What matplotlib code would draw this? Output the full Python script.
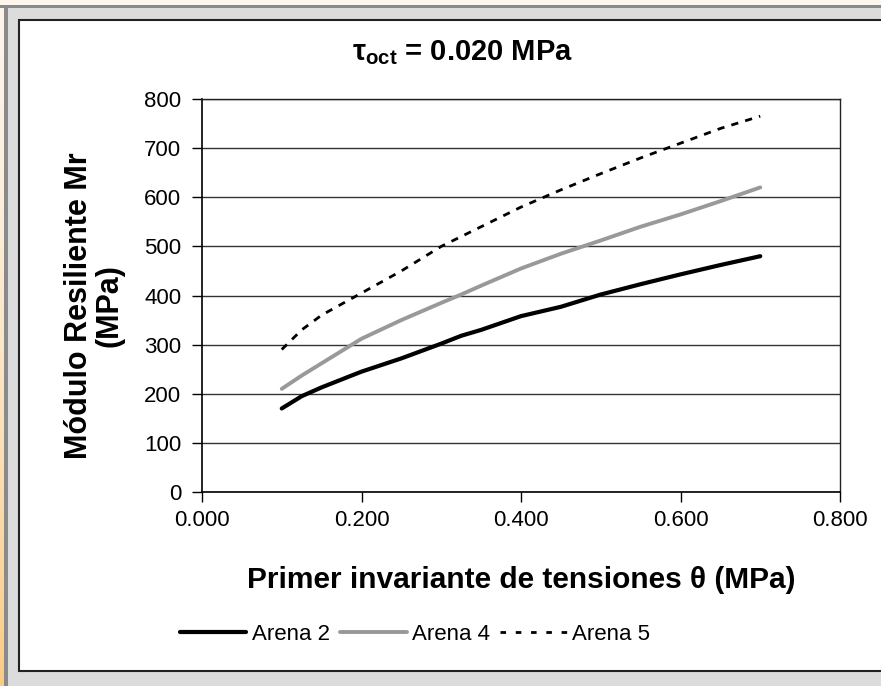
import numpy as np
import matplotlib
matplotlib.use('Agg')
import matplotlib.pyplot as plt
from matplotlib.patches import Rectangle
from matplotlib.lines import Line2D

plt.rcParams['font.family'] = ['Liberation Sans', 'DejaVu Sans']
plt.rcParams['mathtext.fontset'] = 'custom'
plt.rcParams['mathtext.rm'] = 'Liberation Sans'
plt.rcParams['mathtext.bf'] = 'Liberation Sans:bold'

# primer invariante de tensiones (MPa)
theta = [0.100, 0.125, 0.150, 0.200, 0.250, 0.300, 0.325, 0.350, 0.400,
         0.450, 0.500, 0.550, 0.600, 0.650, 0.700]
# modulo resiliente (MPa)
arena2 = [170, 195, 213, 245, 272, 302, 318, 330, 358, 377, 402, 423, 443, 462, 480]
arena4 = [210, 237, 262, 312, 350, 385, 402, 420, 455, 485, 512, 540, 565, 592, 620]
arena5 = [290, 330, 360, 405, 450, 500, 520, 540, 580, 615, 648, 680, 710, 740, 765]

xticks = [0.0, 0.2, 0.4, 0.6, 0.8]
yticks = [0, 100, 200, 300, 400, 500, 600, 700, 800]

W, H = 881, 686
fig = plt.figure(figsize=(W / 100, H / 100), dpi=100, facecolor='#dcdcdc')

# window frame around the chart
fig.patches.append(Rectangle((0, 1 - 5 / H), 1, 5 / H, transform=fig.transFigure,
                             facecolor='#fdf6ec', edgecolor='none', zorder=0))
fig.patches.append(Rectangle((0, 1 - 8 / H), 1, 3 / H, transform=fig.transFigure,
                             facecolor='#8a8a8a', edgecolor='none', zorder=0))
fig.patches.append(Rectangle((4 / W, 0), 4 / W, 1 - 5 / H, transform=fig.transFigure,
                             facecolor='#8a8a8a', edgecolor='none', zorder=0))
fig.patches.append(Rectangle((18.5 / W, 1 - 671 / H), 1, (671 - 20) / H,
                             transform=fig.transFigure, facecolor='white',
                             edgecolor='#222222', linewidth=1.5, zorder=1))

# orange strip on the left edge
strip = fig.add_axes([0, 0, 4 / W, 1 - 5 / H])
grad = np.linspace(0, 1, 256).reshape(-1, 1)
top = np.array([0.99, 0.96, 0.92])
bot = np.array([0.98, 0.80, 0.52])
img = top + (bot - top) * grad[..., None] ** 1.5
strip.imshow(img, aspect='auto', extent=[0, 1, 0, 1])
strip.axis('off')

ax = fig.add_axes([202 / W, 1 - 492 / H, (840 - 202) / W, (492 - 99) / H])
ax.set_zorder(2)
ax.set_facecolor('white')

ax.plot(theta, arena2, color='black', lw=3.0, solid_capstyle='round',
        solid_joinstyle='round', label='Arena 2', zorder=4)
ax.plot(theta, arena4, color='#999999', lw=2.8, solid_capstyle='round',
        solid_joinstyle='round', label='Arena 4', zorder=4)
ax.plot(theta, arena5, color='black', lw=2.0, linestyle=(0, (2.6, 2.6)),
        label='Arena 5', zorder=4)

ax.set_xlim(0, 0.8)
ax.set_ylim(0, 800)
ax.set_xticks(xticks)
ax.set_yticks(yticks)
ax.set_xticklabels(['%.3f' % v for v in xticks], fontsize=16)
ax.set_yticklabels([str(v) for v in yticks], fontsize=16)
ax.tick_params(axis='both', direction='out', length=7, width=1, color='black', pad=6)
ax.tick_params(axis='y', pad=8)
ax.yaxis.grid(True, color='#333333', linewidth=1)
ax.set_axisbelow(True)
for side in ['left', 'bottom']:
    ax.spines[side].set_linewidth(1.2)
    ax.spines[side].set_color('black')
for side in ['top', 'right']:
    ax.spines[side].set_linewidth(1)
    ax.spines[side].set_color('#222222')

fig.text(462 / W, 1 - 53 / H, r'τ$_{\mathbf{oct}}$ = 0.020 MPa', fontsize=21,
         fontweight='bold', ha='center', va='center', zorder=3)
fig.text(521 / W, 1 - 580 / H, 'Primer invariante de tensiones θ (MPa)', fontsize=21.5,
         fontweight='bold', ha='center', va='center', zorder=3)
fig.text(94 / W, 1 - 306 / H, 'Módulo Resiliente Mr\n(MPa)', fontsize=22,
         fontweight='bold', ha='center', va='center', rotation=90,
         linespacing=1.0, zorder=3)

handles = [Line2D([], [], color='black', lw=3.0, solid_capstyle='round'),
           Line2D([], [], color='#999999', lw=2.8, solid_capstyle='round'),
           Line2D([], [], color='black', lw=2.0, linestyle=(0, (2.0, 3.5)))]
leg = fig.legend(handles, ['Arena 2', 'Arena 4', 'Arena 5'], loc='center',
                 bbox_to_anchor=(415 / W, 1 - 634 / H), ncol=3, frameon=False,
                 fontsize=16, handlelength=3.0, handletextpad=0.25,
                 columnspacing=0.45)
leg.set_zorder(3)

fig.savefig('out.png', dpi=100, facecolor=fig.get_facecolor())
